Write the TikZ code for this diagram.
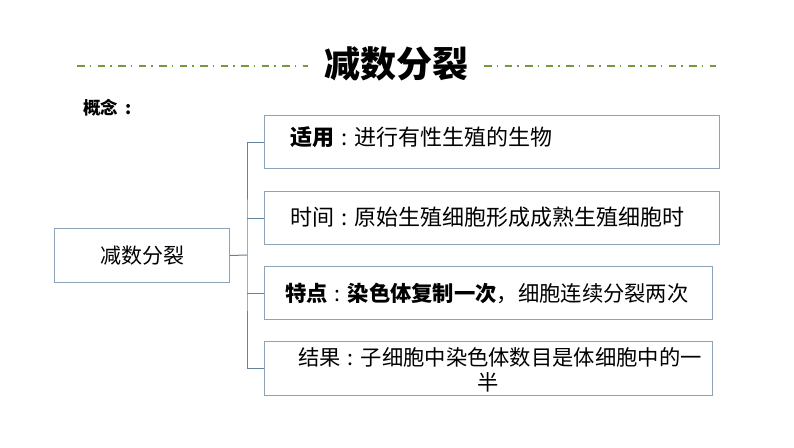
\documentclass[tikz,border=0pt]{standalone}
\usepackage{fontspec}
\newfontfamily\cjk{Noto Sans CJK SC}
\definecolor{boxc}{RGB}{143,163,184}
\definecolor{connc}{RGB}{100,130,155}
\definecolor{dashc}{RGB}{118,152,62}
\newcommand{\cln}{\hspace{7pt}:\hspace{7pt}}
\begin{document}
\begin{tikzpicture}[x=1pt,y=-1pt,
  box/.style={draw=boxc, line width=1pt, anchor=north west, inner sep=0pt, minimum height=53pt},
  conn/.style={draw=connc, line width=1pt},
  dashline/.style={draw=dashc, line width=1.6pt, dash pattern=on 7.5pt off 5pt on 1.5pt off 6.5pt},
  txt/.style={font=\cjk\fontsize{22}{25}\selectfont, inner sep=0pt},
  txts/.style={font=\cjk\fontsize{21.3}{25}\selectfont, inner sep=0pt},
  ttl/.style={font=\cjk\bfseries\fontsize{36}{40}\selectfont, inner sep=0pt},
  concept/.style={font=\cjk\bfseries\fontsize{17.5}{20}\selectfont, inner sep=0pt, anchor=west}]
\useasboundingbox[fill=white] (0,0) rectangle (794,447);
% title and dashed rules
\node[ttl] (title) at (396,64) {减数分裂};
\coordinate (dl1) at (77,66);
\coordinate (dl2) at (308,66);
\coordinate (dr1) at (484,66);
\coordinate (dr2) at (716,66);
\draw[dashline] (dl1) -- (dl2);
\draw[dashline] (dr1) -- (dr2);
\node[concept] (gn) at (83,108) {概念\cln};
% boxes
\node[box, minimum width=175pt, minimum height=54pt] (L) at (54,228) {};
\node[txt, font=\cjk\fontsize{21}{25}\selectfont] (Lt) at (142,256) {减数分裂};
\node[box, minimum width=455pt] (b1) at (264,115) {};
\node[box, minimum width=455pt] (b2) at (264,191) {};
\node[box, minimum width=448pt] (b3) at (264,266) {};
\node[box, minimum width=448pt, minimum height=54pt] (b4) at (264,341) {};
\node[txt, anchor=west] (t1) at (290,137) {\textbf{适用}\cln 进行有性生殖的生物};
\node[txt, anchor=west] (t2) at (290,217) {时间\cln 原始生殖细胞形成成熟生殖细胞时};
\node[txts, anchor=west] (t3) at (285,293) {\textbf{特点}\cln\textbf{染色体复制一次}，细胞连续分裂两次};
\node[txts, align=center] (t4) at (500,369.5) {结果\cln 子细胞中染色体数目是体细胞中的一\\半\hspace*{24pt}};
% connectors
\coordinate (j) at (247,255);
\draw[conn] (L.east) -- (j);
\draw[conn] (b1.west) -| (j) |- (b4.west);
\draw[conn] (b2.west) -- (b2.west -| j);
\draw[conn] (b3.west) -- (b3.west -| j);
\end{tikzpicture}
\end{document}
